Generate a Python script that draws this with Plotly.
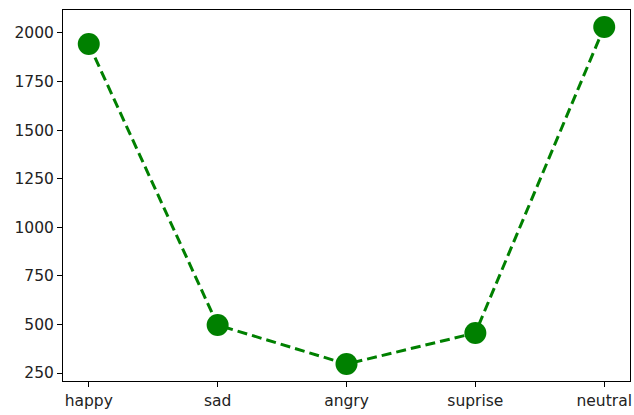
import plotly.graph_objects as go

categories = ["happy", "sad", "angry", "suprise", "neutral"]
values = [1943, 497, 296, 456, 2031]
y_ticks = [250, 500, 750, 1000, 1250, 1500, 1750, 2000]

fig = go.Figure()
fig.add_trace(go.Scatter(
    x=list(range(len(categories))), y=values, mode="lines+markers",
    line=dict(color="#008000", width=3, dash="10px,5px"),
    marker=dict(color="#008000", size=22),
))

axis_common = dict(
    showgrid=False, zeroline=False, showline=True, linecolor="black", linewidth=1,
    mirror=True, ticks="outside", ticklen=5, tickwidth=1, tickcolor="black",
    tickfont=dict(family="DejaVu Sans", size=15.5, color="#222222"),
    automargin=False,
)
fig.update_layout(
    width=634, height=415,
    margin=dict(l=63, r=4, t=10, b=34, autoexpand=False),
    paper_bgcolor="white", plot_bgcolor="white",
    showlegend=False,
    xaxis=dict(range=[-0.2, 4.2], tickvals=list(range(len(categories))),
               ticktext=categories, **axis_common),
    yaxis=dict(range=[209, 2118], tickvals=y_ticks, **axis_common),
)
fig.write_html("out.html", config={"displayModeBar": False},
               post_script="document.body.style.margin='0';document.body.style.overflow='hidden';")
